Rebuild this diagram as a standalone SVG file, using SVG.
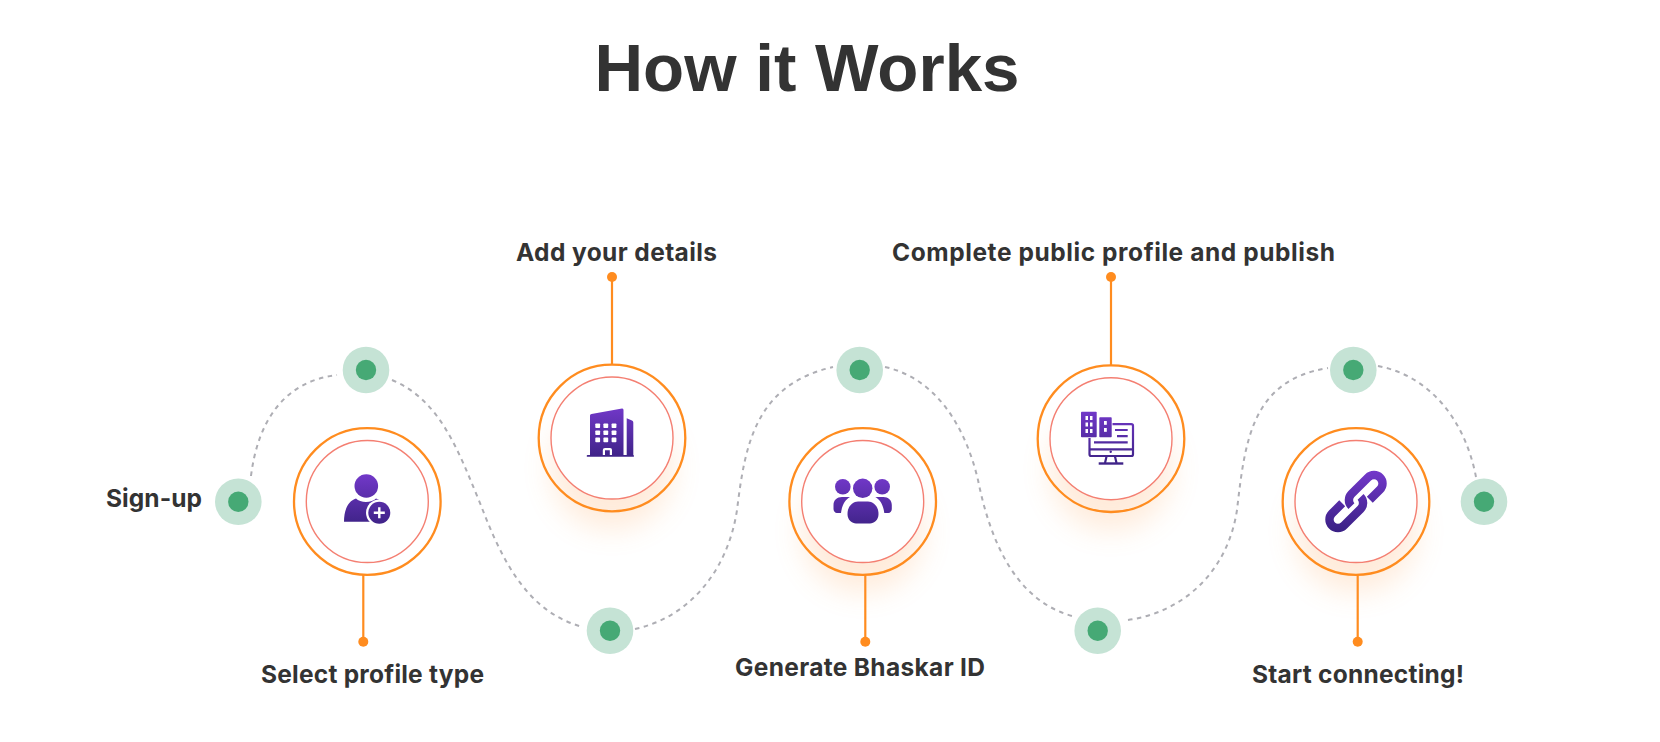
<svg xmlns="http://www.w3.org/2000/svg" width="1660" height="742" viewBox="0 0 1660 742">
<style>
text{font-family:"Inter","Liberation Sans",sans-serif;font-weight:700;font-size:24.500px;fill:#333}
#title{font-family:"Liberation Sans",Arial,sans-serif;font-size:67.300px;fill:#333}
.dash{fill:none;stroke:#aeaeb4;stroke-width:2;stroke-dasharray:4.500 4.500}
.lead{fill:none;stroke:#ff8c1f;stroke-width:2.200}
.tip{fill:#ff8c1f}
.halo{fill:#c5e3d5}
.core{fill:#46a975}
.ring{fill:none;stroke:#ff8c1f;stroke-width:2.300}
.disc{fill:#fff;stroke:#f47f72;stroke-width:1.400}
.glow{fill:#ff9a45;opacity:.2;filter:url(#blur)}
.ico{fill:url(#pg)}
.wh{fill:#fff}
.ln{fill:none;stroke:url(#pg);stroke-width:2.200}
</style>
<defs>
<linearGradient id="pg" gradientUnits="userSpaceOnUse" x1="0" y1="0" x2="0" y2="50"><stop offset="0" stop-color="#7238c9"/><stop offset="1" stop-color="#3f2388"/></linearGradient>
<linearGradient id="pgr" gradientUnits="userSpaceOnUse" x1="21" y1="-21" x2="-21" y2="21"><stop offset="0" stop-color="#7238c9"/><stop offset="1" stop-color="#3a2085"/></linearGradient>
<filter id="blur" x="-50%" y="-50%" width="200%" height="200%"><feGaussianBlur stdDeviation="15"/></filter>
</defs>
<rect width="1660" height="742" fill="#fff"/>
<text id="title" x="594.500" y="90.500">How it Works</text>
<g id="connectors">
<path class="dash" d="M251 476C258 420 285 381 337 375"/>
<path class="dash" d="M392 380C440 400 458 450 480 503C500 555 525 612 583 627"/>
<path class="dash" d="M635 629C690 617 728 570 737 510C745 445 755 385 833 367"/>
<path class="dash" d="M885 367C935 378 965 425 978 480C990 540 1015 600 1072 616"/>
<path class="dash" d="M1128 620C1185 612 1228 570 1237 510C1245 440 1252 380 1328 368"/>
<path class="dash" d="M1378 366C1430 376 1465 420 1476 477"/>
<path class="lead" d="M363.300 575V641"/><circle class="tip" cx="363.300" cy="641.700" r="5"/>
<path class="lead" d="M612 277V364"/><circle class="tip" cx="612" cy="277" r="5"/>
<path class="lead" d="M865.300 575V641"/><circle class="tip" cx="865.300" cy="641.700" r="5"/>
<path class="lead" d="M1111 277V365"/><circle class="tip" cx="1111" cy="277" r="5"/>
<path class="lead" d="M1357.700 575V641"/><circle class="tip" cx="1357.700" cy="641.700" r="5"/>
</g>
<g id="dot-signup"><circle class="halo" cx="238.300" cy="501.700" r="23.300"/><circle class="core" cx="238.300" cy="501.700" r="10.200"/><text x="106" y="507" textLength="96">Sign-up</text></g>
<g id="dot-a"><circle class="halo" cx="366" cy="370" r="23.300"/><circle class="core" cx="366" cy="370" r="10.200"/></g>
<g id="dot-b"><circle class="halo" cx="610" cy="630.700" r="23.300"/><circle class="core" cx="610" cy="630.700" r="10.200"/></g>
<g id="dot-c"><circle class="halo" cx="859.700" cy="370" r="23.300"/><circle class="core" cx="859.700" cy="370" r="10.200"/></g>
<g id="dot-d"><circle class="halo" cx="1097.700" cy="630.700" r="23.300"/><circle class="core" cx="1097.700" cy="630.700" r="10.200"/></g>
<g id="dot-e"><circle class="halo" cx="1353.300" cy="370" r="23.300"/><circle class="core" cx="1353.300" cy="370" r="10.200"/></g>
<g id="dot-f"><circle class="halo" cx="1484" cy="501.700" r="23.300"/><circle class="core" cx="1484" cy="501.700" r="10.200"/></g>
<g id="step-profile">
<circle class="ring" cx="367.300" cy="501.500" r="73.300"/><circle class="disc" cx="367.300" cy="501.500" r="61"/>
<g transform="translate(343,474)"><path class="ico" d="M1 47.700C1 36 5 27 13 24.500C17 29 29 29 33 24.500C40 27 44 32 45 47.700Z"/><circle class="ico" cx="23.300" cy="12" r="11.800"/><circle class="wh" cx="36.300" cy="38.700" r="13.300"/><circle class="ico" cx="36.300" cy="38.700" r="11"/><path d="M36.300 33.200V44.200M30.800 38.700H41.800" stroke="#fff" stroke-width="2.400" fill="none"/></g>
<text x="261" y="683" textLength="223">Select profile type</text>
</g>
<g id="step-details">
<circle class="glow" cx="612" cy="468" r="60"/>
<circle class="ring" cx="612" cy="438" r="73.300"/><circle class="disc" cx="612" cy="438" r="61"/>
<g transform="translate(586,407)"><path class="ico" d="M4 48V8.500Q4 7 5.500 7L36 1.500Q37.500 1.300 37.500 3V48ZM40.700 48V11.200L46 13.500Q47.300 14 47.300 15.500V48Z"/><rect class="ico" x="0.700" y="48" width="47.300" height="1.800" rx=".9"/>
<g class="wh"><rect x="9.300" y="16.500" width="4.800" height="4.600" rx=".8"/><rect x="17.400" y="16.500" width="4.800" height="4.600" rx=".8"/><rect x="25.600" y="16.500" width="4.800" height="4.600" rx=".8"/><rect x="9.300" y="23.400" width="4.800" height="4.600" rx=".8"/><rect x="17.400" y="23.400" width="4.800" height="4.600" rx=".8"/><rect x="25.600" y="23.400" width="4.800" height="4.600" rx=".8"/><rect x="9.300" y="30.600" width="4.800" height="4.600" rx=".8"/><rect x="17.400" y="30.600" width="4.800" height="4.600" rx=".8"/><rect x="25.600" y="30.600" width="4.800" height="4.600" rx=".8"/><path d="M16.800 48V43Q16.800 41 19 41H24Q26 41 26 43V48H23.800V43.300H19V48Z"/></g></g>
<text x="516" y="261" textLength="201">Add your details</text>
</g>
<g id="step-id">
<circle class="glow" cx="862.700" cy="531" r="60"/>
<circle class="ring" cx="862.700" cy="501.500" r="73.300"/><circle class="disc" cx="862.700" cy="501.500" r="61"/>
<g transform="translate(832,477)"><circle class="ico" cx="30.700" cy="11.300" r="9.700"/><circle class="ico" cx="10.800" cy="9.700" r="7.800"/><circle class="ico" cx="50.200" cy="9.700" r="7.800"/>
<path class="ico" d="M1.500 28C1.500 23 5 20 10 20H18C13 23 10 28 9 36H5C3 36 1.500 34 1.500 32ZM59.800 28C59.800 23 56.300 20 51.300 20H43.300C48.300 23 51.300 28 52.300 36H56.300C58.300 36 59.800 34 59.800 32Z"/>
<path class="ico" d="M15.500 37C15.500 29 21 24.500 26 24.500H36C41 24.500 46.500 29 46.500 37C46.500 43 42 46.500 38 46.500H24C20 46.500 15.500 43 15.500 37Z"/></g>
<text x="735" y="676" textLength="250">Generate Bhaskar ID</text>
</g>
<g id="step-public">
<circle class="glow" cx="1111" cy="469" r="60"/>
<circle class="ring" cx="1111" cy="438.700" r="73.300"/><circle class="disc" cx="1111" cy="438.700" r="61"/>
<g transform="translate(1081,411)"><path class="ln" d="M31.500 13.100H50.300Q52 13.100 52 14.800V43.200Q52 45 50.300 45H10.300Q8.500 45 8.500 43.200V27M8.500 38.400H52M34 19H46.700M36 25.100H46.700M13 31.300H46.700M25.500 45.500L24 52M34 45.500L35.500 52"/><path class="ln" style="stroke-width:2.400" d="M17.700 52.500H42.300"/><circle class="ico" cx="29.700" cy="40.700" r="1.200"/>
<rect class="ico" x="0" y="0.700" width="15.700" height="25.600" rx=".8"/><rect class="ico" x="18.300" y="6.300" width="12.400" height="20" rx=".8"/>
<g class="wh"><rect x="4.500" y="5" width="2.500" height="4"/><rect x="9" y="5" width="2.500" height="4"/><rect x="4.500" y="11.500" width="2.500" height="4"/><rect x="9" y="11.500" width="2.500" height="4"/><rect x="4.500" y="18" width="2.500" height="4"/><rect x="9" y="18" width="2.500" height="4"/><rect x="23" y="10" width="2.800" height="3.800"/><rect x="23" y="17" width="2.800" height="3.800"/></g></g>
<text x="892" y="261" textLength="443">Complete public profile and publish</text>
</g>
<g id="step-connect">
<circle class="glow" cx="1356" cy="531" r="60"/>
<circle class="ring" cx="1356" cy="501.500" r="73.300"/><circle class="disc" cx="1356" cy="501.500" r="61"/>
<g transform="translate(1356,501.500) rotate(-45)" fill="none" stroke="url(#pgr)" stroke-width="8.400"><path d="M11 8.500H25.500A8.500 8.500 0 0 0 25.500 -8.500H2A8.500 8.500 0 0 0 -6.500 0"/><path d="M-11 -8.500H-25.500A8.500 8.500 0 0 0 -25.500 8.500H-2A8.500 8.500 0 0 0 6.500 0"/></g>
<text x="1252" y="683" textLength="212">Start connecting!</text>
</g>
</svg>
